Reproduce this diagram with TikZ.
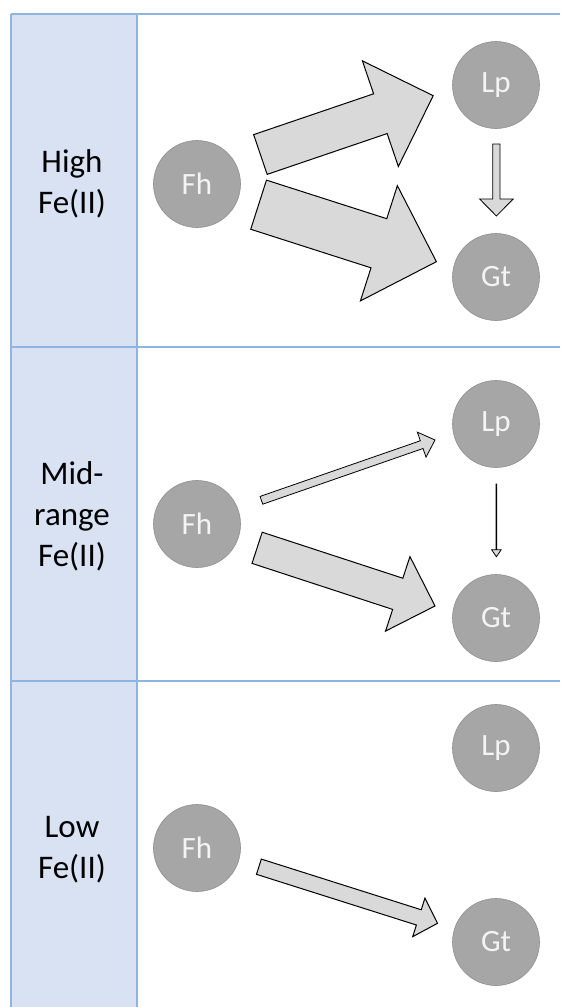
\documentclass[tikz,border=0pt]{standalone}
\usepackage{fontspec}
\setmainfont{Carlito}
\usetikzlibrary{calc}
\definecolor{colfill}{HTML}{D9E2F3}
\definecolor{gridblue}{HTML}{8EB4E3}
\definecolor{circfill}{HTML}{A6A6A6}
\definecolor{circedge}{HTML}{8F8F8F}
\definecolor{arrfill}{HTML}{D9D9D9}
\definecolor{circtext}{HTML}{F4F4F4}
% #1 tail coordinate, #2 tip coordinate, #3 half shaft width, #4 half head width, #5 head length, #6 style
\newcommand\blockarr[6]{%
  \coordinate (ba-h) at ($(#2)!#5pt!(#1)$);
  \draw[#6] ($(#1)!#3pt!90:(#2)$) -- ($(ba-h)!#3pt!90:(#2)$) -- ($(ba-h)!#4pt!90:(#2)$)
    -- (#2) -- ($(ba-h)!#4pt!-90:(#2)$) -- ($(ba-h)!#3pt!-90:(#2)$) -- ($(#1)!#3pt!-90:(#2)$) -- cycle;}
\begin{document}
\begin{tikzpicture}[x=1pt,y=-1pt,
  gridline/.style={draw=gridblue,line width=1.5pt},
  mineral/.style={circle,fill=circfill,draw=circedge,line width=0.6pt,minimum size=87pt,inner sep=0pt,
    text=circtext,font=\fontsize{31}{31}\selectfont},
  lbl/.style={align=center,text=black,font=\fontsize{33}{41}\selectfont,inner sep=0pt},
  bigarr/.style={draw=black,fill=arrfill,line width=1pt,line join=miter},
  thinarr/.style={draw=black,fill=arrfill,line width=0.8pt,line join=miter}]
\useasboundingbox (0,0) rectangle (560,1007);
\fill[white] (0,0) rectangle (560,1007);
\fill[colfill] (11,14) rectangle (137,1007);
% table lines
\draw[gridline] (11,14) -- (560,14);
\draw[gridline] (11,347) -- (560,347);
\draw[gridline] (11,681) -- (560,681);
\draw[gridline] (11,14) -- (11,1007);
\draw[gridline] (137,14) -- (137,1007);
% labels
\node[lbl] (lab1) at (72,184) {High\\Fe(II)};
\node[lbl] (lab2) at (72,516) {Mid-\\range\\Fe(II)};
\node[lbl] (lab3) at (72,850) {Low\\Fe(II)};
% row 1
\node[mineral] (fh1) at (197,184) {Fh};
\node[mineral] (lp1) at (496,85) {Lp};
\node[mineral] (gt1) at (496,277) {Gt};
\coordinate (a1t) at (260.4,154.5); \coordinate (a1h) at (433.2,95.7);
\coordinate (a2t) at (258.6,204.7); \coordinate (a2h) at (436.4,261.7);
\coordinate (a3t) at (496.4,144);   \coordinate (a3h) at (496.4,216);
\blockarr{a1t}{a1h}{21}{55.8}{55.8}{bigarr}
\blockarr{a2t}{a2h}{25.8}{60.5}{60.4}{bigarr}
\blockarr{a3t}{a3h}{3.6}{16.8}{17}{thinarr}
% row 2
\node[mineral] (fh2) at (197,524) {Fh};
\node[mineral] (lp2) at (496,424) {Lp};
\node[mineral] (gt2) at (496,618) {Gt};
\coordinate (b1t) at (261.4,500.3); \coordinate (b1h) at (435,440);
\coordinate (b2t) at (257.1,547.8); \coordinate (b2h) at (435,606);
\coordinate (b3t) at (496.4,484);   \coordinate (b3h) at (496.4,556.7);
\blockarr{b1t}{b1h}{4.1}{13.2}{14.1}{thinarr}
\blockarr{b2t}{b2h}{16.4}{39.2}{39.2}{bigarr}
\blockarr{b3t}{b3h}{0.4}{4.8}{7}{thinarr}
% row 3
\node[mineral] (fh3) at (197,848) {Fh};
\node[mineral] (lp3) at (496,748) {Lp};
\node[mineral] (gt3) at (496,942) {Gt};
\coordinate (c1t) at (258.9,866.7); \coordinate (c1h) at (437.5,923.3);
\blockarr{c1t}{c1h}{8}{20.2}{19.6}{bigarr}
\end{tikzpicture}
\end{document}
